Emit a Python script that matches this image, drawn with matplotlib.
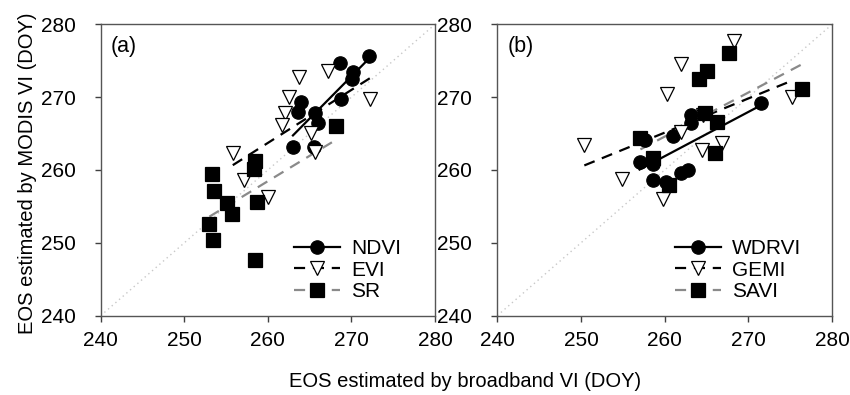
import numpy as np
import matplotlib.pyplot as plt
from matplotlib.lines import Line2D

plt.rcParams['font.family'] = ['Liberation Sans', 'DejaVu Sans']

# EOS (DOY) from broadband VI (x) and MODIS VI (y)
ndvi_x = [272.1, 268.6, 270.2, 270.1, 268.8, 264.0, 263.6, 265.6, 266.0, 263.0, 265.5]
ndvi_y = [275.7, 274.7, 273.4, 272.5, 269.7, 269.3, 267.9, 267.8, 266.4, 263.2, 263.2]

evi_x = [263.7, 267.2, 272.2, 262.5, 262.0, 261.7, 265.2, 265.6, 255.8, 257.1, 260.0]
evi_y = [272.8, 273.6, 269.7, 270.0, 267.8, 266.2, 265.1, 262.5, 262.3, 258.6, 256.3]

sr_x = [253.3, 253.6, 255.1, 255.7, 253.0, 253.4, 258.5, 258.3, 258.7, 258.5, 268.1]
sr_y = [259.4, 257.1, 255.5, 253.9, 252.6, 250.4, 261.3, 260.1, 255.6, 247.6, 266.1]

wdrvi_x = [263.2, 263.2, 261.0, 257.6, 257.0, 258.6, 258.6, 260.2, 262.0, 262.8, 271.45]
wdrvi_y = [267.5, 266.4, 264.6, 264.1, 261.1, 260.8, 258.6, 258.4, 259.6, 260.0, 269.2]

gemi_x = [268.3, 262.0, 260.3, 275.2, 250.4, 254.9, 259.8, 264.4, 266.8, 262.0, 264.6]
gemi_y = [277.7, 274.6, 270.4, 270.0, 263.4, 258.7, 256.0, 262.7, 263.7, 265.2, 267.5]

savi_x = [267.7, 265.1, 264.1, 276.4, 264.8, 266.2, 266.0, 257.1, 258.6, 260.5]
savi_y = [276.1, 273.6, 272.5, 271.1, 267.8, 266.6, 262.4, 264.4, 261.6, 257.9]

ticks = [240, 250, 260, 270, 280]
grey = '#8a8a8a'
DASH = (0, (5, 3.5))
MS = 9.6


def add_series(ax, x, y, label, marker, face, line_color, ls):
    x = np.array(x)
    y = np.array(y)
    # least squares fit drawn over the range of the data
    slope, intercept = np.polyfit(x, y, 1)
    xs = np.array([x.min(), x.max()])
    ax.plot(xs, slope * xs + intercept, color=line_color, lw=1.6, linestyle=ls,
            zorder=2)
    ax.plot(x, y, linestyle='none', marker=marker, markersize=MS,
            markerfacecolor=face, markeredgecolor='black', markeredgewidth=0.9,
            zorder=3)
    return Line2D([], [], color=line_color, lw=1.6, linestyle=ls, marker=marker,
                  markersize=MS, markerfacecolor=face, markeredgecolor='black',
                  markeredgewidth=0.9, label=label)


def make_panel(ax, tag, series, leg_x):
    ax.plot([240, 280], [240, 280], color='#c8c8c8', lw=1.0, linestyle=(0, (1, 2.5)),
            zorder=0)
    handles = [add_series(ax, *s) for s in series]
    ax.set_xlim(240, 280)
    ax.set_ylim(240, 280)
    ax.set_xticks(ticks)
    ax.set_yticks(ticks)
    ax.tick_params(direction='out', length=4, width=1, color='#404040',
                   labelsize=15)
    ax.tick_params(axis='x', pad=7)
    ax.tick_params(axis='y', pad=14)
    for sp in ax.spines.values():
        sp.set_color('#555555')
        sp.set_linewidth(1.0)
    ax.text(0.03, 0.96, tag, transform=ax.transAxes, fontsize=15.5, va='top')
    ax.legend(handles=handles, loc='lower left', frameon=False, numpoints=1,
              fontsize=15, handlelength=2.2, handletextpad=0.55,
              labelspacing=0.12, borderpad=0, borderaxespad=0,
              bbox_to_anchor=(leg_x, 0.05))


fig = plt.figure(figsize=(8.5, 3.95), dpi=100)
ax_a = fig.add_axes([0.1185, 0.2008, 0.3933, 0.7377])
ax_b = fig.add_axes([0.585, 0.2008, 0.394, 0.7377])

make_panel(ax_a, '(a)', [
    (ndvi_x, ndvi_y, 'NDVI', 'o', 'black', 'black', '-'),
    (evi_x, evi_y, 'EVI', 'v', 'white', 'black', DASH),
    (sr_x, sr_y, 'SR', 's', 'black', grey, DASH),
], 0.578)
make_panel(ax_b, '(b)', [
    (wdrvi_x, wdrvi_y, 'WDRVI', 'o', 'black', 'black', '-'),
    (gemi_x, gemi_y, 'GEMI', 'v', 'white', 'black', DASH),
    (savi_x, savi_y, 'SAVI', 's', 'black', grey, DASH),
], 0.530)

fig.text(0.032, 0.562, 'EOS estimated by MODIS VI (DOY)', fontsize=14.5,
         rotation=90, ha='center', va='center')
fig.text(0.547, 0.035, 'EOS estimated by broadband VI (DOY)', fontsize=14.5,
         ha='center', va='center')

fig.savefig('out.png', dpi=100)
